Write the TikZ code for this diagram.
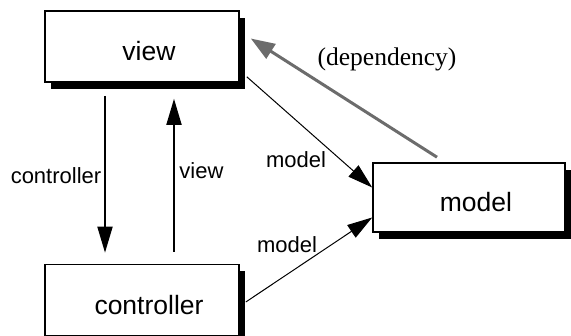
\documentclass[tikz,border=0pt]{standalone}
\usepackage{fontspec}
\setmainfont{Liberation Sans}
\newfontfamily\depfont{Liberation Serif}
\usetikzlibrary{arrows.meta,shadows}
\tikzset{
  box/.style={draw=black, fill=white, line width=1.6pt, minimum width=194pt, minimum height=71pt,
    inner sep=0pt,
    drop shadow={shadow xshift=6pt, shadow yshift=-7pt, fill=black, opacity=1}},
  boxtext/.style={font=\fontsize{26.5}{30}\selectfont, inner sep=0pt, xshift=7pt, yshift=-5pt},
  lbl/.style={font=\fontsize{22}{26}\selectfont, inner sep=0pt},
  bigarr/.style={line width=1.8pt, -{Triangle[length=26pt,width=15pt]}},
  thinarr/.style={line width=1pt, -{Triangle[length=25pt,width=15pt]}},
  deparr/.style={line width=3pt, draw=gray!85!black, -{Triangle[length=24pt,width=17pt]}}
}
\begin{document}
\begin{tikzpicture}[x=1pt,y=-1pt]
\useasboundingbox (0,0) rectangle (571,336);
\node[box, label={[boxtext]center:view}] (view) at (142,46.5) {};
\node[box, label={[boxtext]center:controller}] (ctrl) at (142,300) {};
\node[box, minimum width=192pt, minimum height=69pt, label={[boxtext]center:model}] (model) at (469,197.5) {};
\draw[bigarr] ([xshift=-37pt,yshift=-13pt]view.south) -- ([xshift=-37pt,yshift=11pt]ctrl.north);
\draw[bigarr] ([xshift=32pt,yshift=12pt]ctrl.north) -- ([xshift=32pt,yshift=-16pt]view.south);
\draw[thinarr] ([xshift=7pt,yshift=6pt]view.south east) -- ([yshift=10pt]model.west);
\draw[thinarr] ([xshift=6pt,yshift=-2pt]ctrl.east) -- ([yshift=-20pt]model.west);
\draw[deparr] ([xshift=-32pt,yshift=5pt]model.north) -- ([xshift=11pt,yshift=8pt]view.east);
\node[lbl] (lc) at (56,176) {controller};
\node[lbl] (lv) at (201.5,171) {view};
\node[lbl] (lm1) at (296,160) {model};
\node[lbl] (lm2) at (287,245) {model};
\node[inner sep=0pt, font=\depfont\fontsize{25.5}{29}\selectfont] (ld) at (387,59) {(dependency)};
\end{tikzpicture}
\end{document}
